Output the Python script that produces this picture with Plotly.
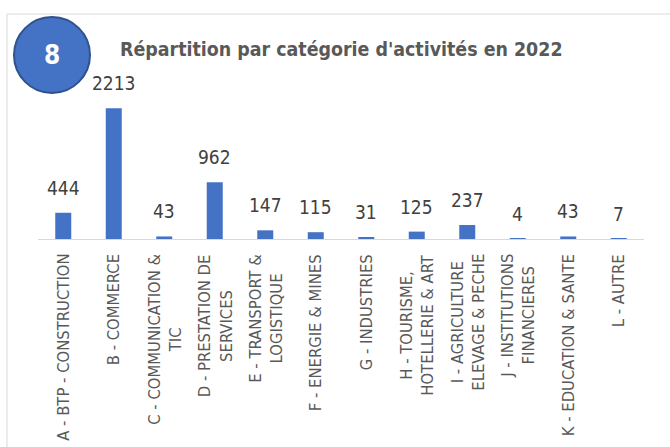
import plotly.graph_objects as go

categories = [
    "A - BTP - CONSTRUCTION",
    "B - COMMERCE",
    "C - COMMUNICATION &<br>TIC",
    "D - PRESTATION DE<br>SERVICES",
    "E - TRANSPORT &<br>LOGISTIQUE",
    "F - ENERGIE & MINES",
    "G - INDUSTRIES",
    "H - TOURISME,<br>HOTELLERIE & ART",
    "I - AGRICULTURE<br>ELEVAGE & PECHE",
    "J - INSTITUTIONS<br>FINANCIERES",
    "K - EDUCATION & SANTE",
    "L - AUTRE",
]
values = [444, 2213, 43, 962, 147, 115, 31, 125, 237, 4, 43, 7]
title_text = "Répartition par catégorie d'activités en 2022"
badge_text = "8"

W, H = 670, 447
ML, MR, MT, MB = 38, 26, 60, 208
PW = W - ML - MR
PH = H - MT - MB

def px_x(px):
    return (px - ML) / PW

def px_y(py):
    return (H - MB - py) / PH

FONT = "Liberation Sans Narrow, DejaVu Sans Condensed, Arial Narrow, sans-serif"
BLUE = "#4472C4"

fig = go.Figure()
fig.add_trace(go.Bar(
    x=categories, y=values, marker=dict(color=BLUE, line=dict(width=0)),
    hoverinfo="x+y",
))

annotations = []
for c, v in zip(categories, values):
    annotations.append(dict(
        x=c, y=v, xref="x", yref="y", text=str(v), showarrow=False,
        yanchor="bottom", xanchor="center", yshift=12,
        font=dict(family=FONT, size=19, color="#404040"),
    ))
    annotations.append(dict(
        x=c, y=0, xref="x", yref="paper", text=c, showarrow=False,
        textangle=-90, yanchor="top", xanchor="center", yshift=-13,
        align="center",
        font=dict(family=FONT, size=16.5, color="#595959"),
    ))

annotations.append(dict(
    x=px_x(341), y=px_y(50), xref="paper", yref="paper",
    text="<b>" + title_text + "</b>", showarrow=False,
    xanchor="center", yanchor="middle",
    font=dict(family=FONT, size=19.4, color="#595959"),
))
annotations.append(dict(
    x=px_x(52), y=px_y(55), xref="paper", yref="paper",
    text="<b>" + badge_text + "</b>", showarrow=False,
    xanchor="center", yanchor="middle",
    font=dict(family=FONT, size=26, color="white"),
))

shapes = [
    dict(type="rect", xref="paper", yref="paper",
         x0=px_x(7), x1=px_x(700), y0=px_y(500), y1=px_y(14),
         line=dict(color="#D9D9D9", width=1), fillcolor="rgba(0,0,0,0)", layer="below"),
    dict(type="circle", xref="paper", yref="paper",
         x0=px_x(14), x1=px_x(90), y0=px_y(93), y1=px_y(17),
         line=dict(color="#2F528F", width=2), fillcolor=BLUE, layer="above"),
]

fig.update_layout(
    width=W, height=H,
    margin=dict(l=ML, r=MR, t=MT, b=MB, pad=0),
    paper_bgcolor="white", plot_bgcolor="white",
    showlegend=False,
    bargap=0.683,
    xaxis=dict(showticklabels=False, showgrid=False, zeroline=False,
               showline=True, linecolor="#D9D9D9", linewidth=1, ticks=""),
    yaxis=dict(range=[0, PH / 0.0591], visible=False, showgrid=False, zeroline=False),
    annotations=annotations,
    shapes=shapes,
)

fig.write_html(
    "out.html",
    config={"displayModeBar": False},
    post_script="document.body.style.margin='0';document.body.style.overflow='hidden';",
)
